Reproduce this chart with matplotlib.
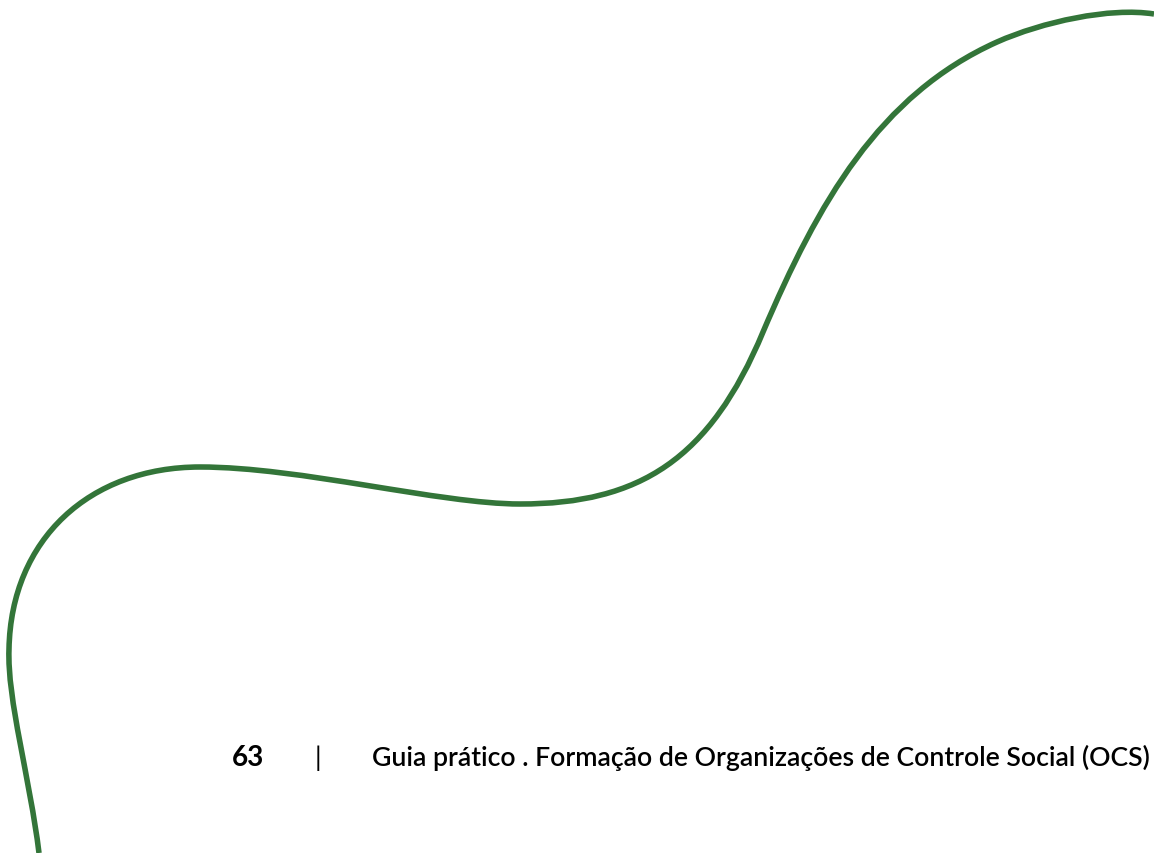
import matplotlib.pyplot as plt
from matplotlib.path import Path
from matplotlib.patches import PathPatch

# decorative curve as cubic bezier pieces (start point, then 3 points per piece)
curve_x = [39, 30, 7, 9, 11, 90, 200, 300, 440, 520, 640, 710, 763, 818, 879, 997, 1042, 1110, 1154]
curve_y = [854, 780, 700, 650, 540, 468, 468, 468, 505, 505, 505, 460, 333, 204, 96, 43, 23, 8, 15]

page_no = "63"
footer = "Guia prático . Formação de Organizações de Controle Social (OCS)"
green = "#337539"

fig = plt.figure(figsize=(11.54, 8.54), dpi=100)
ax = fig.add_axes([0, 0, 1, 1])
ax.set_xlim(0, 1154)
ax.set_ylim(854, 0)
ax.axis("off")

codes = [Path.MOVETO] + [Path.CURVE4] * (len(curve_x) - 1)
path = Path(list(zip(curve_x, curve_y)), codes)
ax.add_patch(PathPatch(path, fill=False, ec=green, lw=4, capstyle="butt"))

fs = 19.2
ax.text(232, 758, page_no, fontsize=fs + 1, fontweight="bold", family="Lato", va="center", ha="left")
ax.text(318, 758, "|", fontsize=fs, family="Lato", va="center", ha="center")
ax.text(372, 758, footer, fontsize=fs, fontweight="semibold", family="Lato", va="center", ha="left")

fig.savefig("out.png", dpi=100)
